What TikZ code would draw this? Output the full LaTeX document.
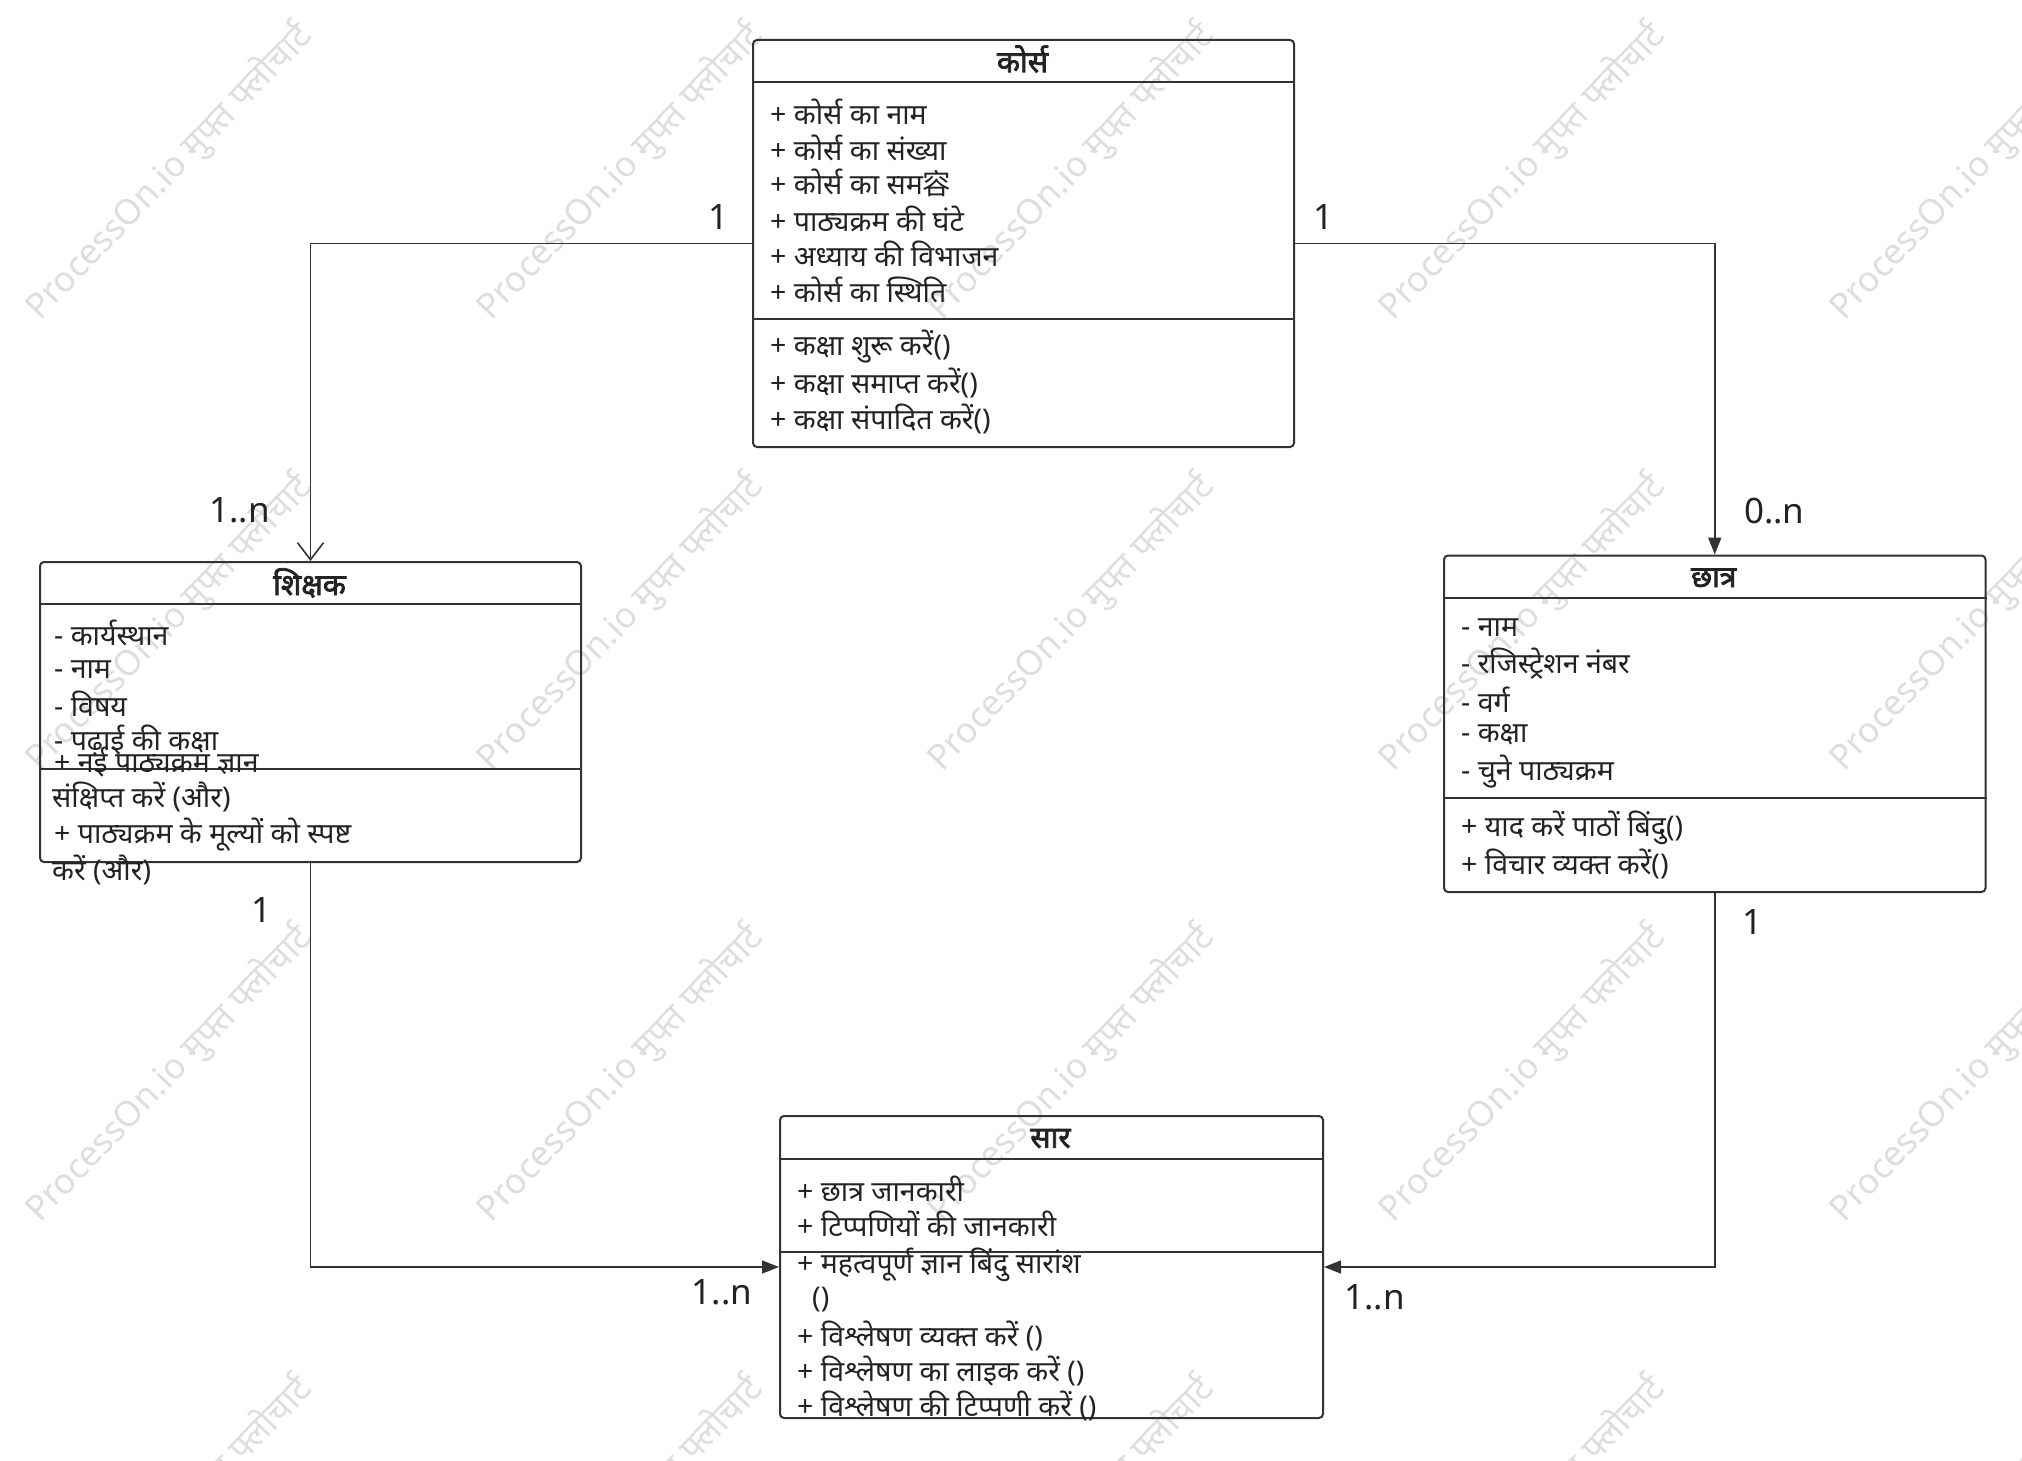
\documentclass[tikz,border=0pt]{standalone}
\usepackage{fontspec}
\setmainfont[Script=Devanagari]{Noto Sans}
\newfontfamily\titlefont[Script=Devanagari,FakeBold=2.5]{Noto Sans}
\newfontfamily\cjkfont{Noto Sans CJK SC}
\usetikzlibrary{arrows.meta}
\definecolor{linec}{HTML}{333333}
\definecolor{txtc}{HTML}{222222}
\definecolor{wmc}{HTML}{DEDEDE}
\tikzset{
  umlbox/.style={draw=linec, line width=2pt, rounded corners=4pt, inner sep=0pt, anchor=north west},
  divl/.style={draw=linec, line width=2pt},
  conn/.style={draw=linec, line width=1.6pt},
  attr/.style={anchor=west, inner sep=0pt, text=txtc, font=\fontsize{28.5}{32}\selectfont},
  ttl/.style={inner sep=0pt, text=txtc, font=\titlefont\fontsize{30}{34}\selectfont},
  lbl/.style={inner sep=0pt, text=txtc, font=\fontsize{35}{40}\selectfont},
  wm/.style={inner sep=0pt, rotate=46, text=wmc, font=\fontsize{35}{38}\selectfont},
  filledtip/.style={-{Triangle[length=17pt,width=13pt]}},
  opentip/.style={-{Straight Barb[length=17pt,width=26pt]}}
}
\begin{document}
\begin{tikzpicture}[x=1pt,y=-1pt]
\useasboundingbox (0,0) rectangle (2022,1461);
\fill[white] (0,0) rectangle (2022,1461);
\begin{scope}
\clip (0,0) rectangle (2022,1461);
% watermarks
\foreach \i in {0,1,2,3,4}{
  \foreach \j in {0,1,2,3}{
    \node[wm] (wm-\i-\j) at ({169+451*\i},{172+451*\j}) {ProcessOn.io मुफ्त फ्लोचार्ट};
  }
}
\end{scope}

% ---------------- boxes ----------------
\node[umlbox, minimum width=541pt, minimum height=407pt] (course) at (752,39) {};
\node[umlbox, minimum width=541pt, minimum height=300pt] (teacher) at (39,561) {};
\node[umlbox, minimum width=541.5pt, minimum height=336.5pt] (student) at (1443,554.5) {};
\node[umlbox, minimum width=543pt, minimum height=302pt] (summary) at (779,1115) {};

% dividers
\draw[divl] (course.west |- 0,82.5) -- (course.east |- 0,82.5);
\draw[divl] (course.west |- 0,318.5) -- (course.east |- 0,318.5);
\draw[divl] (teacher.west |- 0,603.5) -- (teacher.east |- 0,603.5);
\draw[divl] (teacher.west |- 0,768.5) -- (teacher.east |- 0,768.5);
\draw[divl] (student.west |- 0,598.3) -- (student.east |- 0,598.3);
\draw[divl] (student.west |- 0,798.2) -- (student.east |- 0,798.2);
\draw[divl] (summary.west |- 0,1159.3) -- (summary.east |- 0,1159.3);
\draw[divl] (summary.west |- 0,1252.1) -- (summary.east |- 0,1252.1);

% ---------------- course ----------------
\node[ttl] (courseT) at (1022.5,59) {कोर्स};
\node[attr] (ca1) at (770,112.2) {+ कोर्स का नाम};
\node[attr] (ca2) at (770,148.3) {+ कोर्स का संख्या};
\node[attr] (ca3) at (770,183.1) {+ कोर्स का सम{\cjkfont 容}};
\node[attr] (ca4) at (770,219.2) {+ पाठ्यक्रम की घंटे};
\node[attr] (ca5) at (770,254) {+ अध्याय की विभाजन};
\node[attr] (ca6) at (770,290.1) {+ कोर्स का स्थिति};
\node[attr] (cm1) at (770,346.9) {+ कक्षा शुरू करें()};
\node[attr] (cm2) at (770,383) {+ कक्षा समाप्त करें()};
\node[attr] (cm3) at (770,419.1) {+ कक्षा संपादित करें()};

% ---------------- teacher ----------------
\node[ttl] (teacherT) at (309.5,582.9) {शिक्षक};
\node[attr] (ta1) at (54,633) {- कार्यस्थान};
\node[attr] (ta2) at (54,669.3) {- नाम};
\node[attr] (ta3) at (54,704) {- विषय};
\node[attr] (ta4) at (54,740.2) {- पढ़ाई की कक्षा};
\node[attr] (tm1) at (54,762.1) {+ नई पाठ्यक्रम ज्ञान};
\node[attr] (tm1b) at (52,797) {संक्षिप्त करें (और)};
\node[attr] (tm2) at (54,834.3) {+ पाठ्यक्रम के मूल्यों को स्पष्ट};
\node[attr] (tm2b) at (52,870.4) {करें (और)};

% ---------------- student ----------------
\node[ttl] (studentT) at (1713.75,577.7) {छात्र};
\node[attr] (sa1) at (1461,628) {- नाम};
\node[attr] (sa2) at (1461,664) {- रजिस्ट्रेशन नंबर};
\node[attr] (sa3) at (1461,700.2) {- वर्ग};
\node[attr] (sa4) at (1461,735) {- कक्षा};
\node[attr] (sa5) at (1461,771.1) {- चुने पाठ्यक्रम};
\node[attr] (sm1) at (1461,827.9) {+ याद करें पाठों बिंदु()};
\node[attr] (sm2) at (1461,864) {+ विचार व्यक्त करें()};

% ---------------- summary ----------------
\node[ttl] (summaryT) at (1050.5,1138.6) {सार};
\node[attr] (ya1) at (797,1189) {+ छात्र जानकारी};
\node[attr] (ya2) at (797,1223.8) {+ टिप्पणियों की जानकारी};
\node[attr] (ym1) at (797,1265) {+ महत्वपूर्ण ज्ञान बिंदु सारांश};
\node[attr] (ym1b) at (812,1300) {()};
\node[attr] (ym2) at (797,1336) {+ विश्लेषण व्यक्त करें ()};
\node[attr] (ym3) at (797,1370.7) {+ विश्लेषण का लाइक करें ()};
\node[attr] (ym4) at (797,1405.6) {+ विश्लेषण की टिप्पणी करें ()};

% ---------------- connectors ----------------
\draw[conn, opentip] (course.west) -| (teacher.north);
\draw[conn, filledtip] (course.east) -| (student.north);
\draw[conn, filledtip] (teacher.south) |- (summary.west);
\draw[conn, filledtip] (student.south) |- (summary.east);

% multiplicities
\node[lbl] (m1) at (718.3,216.6) {1};
\node[lbl] (m2) at (239.8,510.6) {1..n};
\node[lbl] (m3) at (1323,216.6) {1};
\node[lbl] (m4) at (1774.4,510.6) {0..n};
\node[lbl] (m5) at (261.8,910.4) {1};
\node[lbl] (m6) at (722.1,1292) {1..n};
\node[lbl] (m7) at (1752.4,922) {1};
\node[lbl] (m8) at (1374.6,1297.2) {1..n};
\end{tikzpicture}
\end{document}
